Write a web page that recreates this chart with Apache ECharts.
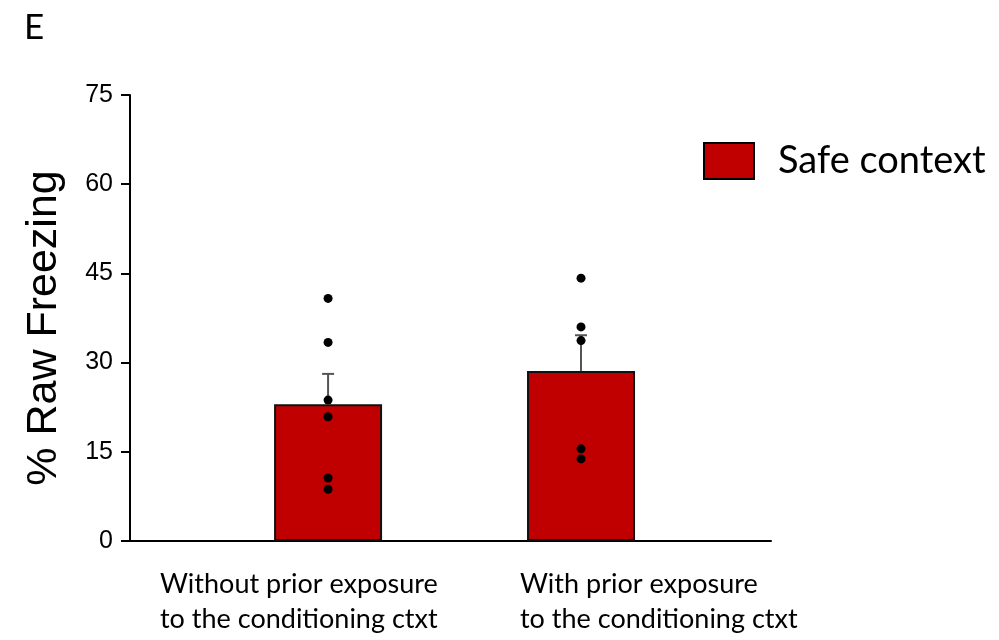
<!DOCTYPE html>
<html>
<head>
<meta charset="utf-8">
<script src="https://cdn.jsdelivr.net/npm/echarts@6/dist/echarts.min.js"></script>
<style>
  html, body { margin: 0; padding: 0; background: #fff; }
  #chart { width: 999px; height: 640px; }
</style>
</head>
<body>
<div id="chart"></div>
<script>
// Groups (positions 1 and 2 on the x scale) and their labels
const groupPositions = [1, 2];
const groupLabels = [
  'Without prior exposure\nto the conditioning ctxt',
  'With prior exposure\nto the conditioning ctxt'
];
// Group means and SEM (% raw freezing)
const meanValues = [23.0, 28.6];
const semValues = [5.1, 6.0];
// Individual animals
const pointsWithout = [40.8, 33.4, 23.7, 20.9, 10.6, 8.7];
const pointsWith = [44.2, 36.0, 33.7, 15.5, 13.8];
// Y axis ticks
const yTicks = [0, 15, 30, 45, 60, 75];

const seriesName = 'Safe context';
const yTitle = '% Raw Freezing';
const barColor = '#C00000';

const barData = groupPositions.map((x, i) => [x, meanValues[i]]);
const errData = groupPositions.map((x, i) => [x, meanValues[i], meanValues[i] + semValues[i]]);
const dotData = [
  ...pointsWithout.map(v => [groupPositions[0], v]),
  ...pointsWith.map(v => [groupPositions[1], v])
];

const labelFont = 'Lato, "Open Sans", sans-serif';

const chart = echarts.init(document.getElementById('chart'), null, { renderer: 'canvas' });

chart.setOption({
  animation: false,
  backgroundColor: '#ffffff',
  grid: { left: 130, right: 228, top: 95, bottom: 99, containLabel: false },
  xAxis: {
    type: 'value',
    min: 0.217,
    max: 2.751,
    axisLine: { show: true, lineStyle: { color: '#000', width: 2 } },
    axisTick: { show: false },
    axisLabel: { show: false },
    splitLine: { show: false }
  },
  yAxis: {
    type: 'value',
    min: yTicks[0],
    max: yTicks[yTicks.length - 1],
    interval: 15,
    axisLine: { show: true, lineStyle: { color: '#000', width: 2 } },
    axisTick: { show: true, inside: false, length: 9, lineStyle: { color: '#000', width: 2 } },
    axisLabel: {
      color: '#000',
      fontFamily: 'Liberation Sans, Arial, sans-serif',
      fontSize: 25,
      margin: 17
    },
    splitLine: { show: false }
  },
  legend: {
    data: [seriesName],
    left: 698,
    top: 137,
    itemWidth: 50,
    itemHeight: 36,
    itemGap: 10,
    icon: 'rect',
    textStyle: {
      color: '#000',
      fontFamily: labelFont,
      fontSize: 38,
      padding: [0, 0, 0, 19]
    },
    itemStyle: { borderColor: '#000', borderWidth: 2 }
  },
  series: [
    {
      name: seriesName,
      type: 'bar',
      data: barData,
      barWidth: 108,
      itemStyle: { color: barColor, borderColor: '#111', borderWidth: 2 },
      z: 2
    },
    {
      name: 'sem',
      type: 'custom',
      data: errData,
      encode: { x: 0, y: [1, 2] },
      z: 3,
      renderItem: function (params, api) {
        const x = api.value(0);
        const base = api.coord([x, api.value(1)]);
        const top = api.coord([x, api.value(2)]);
        const cap = 6;
        const style = { stroke: '#555', lineWidth: 2 };
        return {
          type: 'group',
          children: [
            { type: 'line', shape: { x1: base[0], y1: base[1], x2: top[0], y2: top[1] }, style },
            { type: 'line', shape: { x1: top[0] - cap, y1: top[1], x2: top[0] + cap, y2: top[1] }, style }
          ]
        };
      }
    },
    {
      name: 'animals',
      type: 'scatter',
      data: dotData,
      symbol: 'circle',
      symbolSize: 9,
      itemStyle: { color: '#000', opacity: 1 },
      z: 4
    }
  ],
  graphic: [
    {
      type: 'text',
      left: 24,
      top: 10,
      style: { text: 'E', fill: '#000', font: '35px ' + labelFont }
    },
    {
      type: 'text',
      x: 44,
      y: 328,
      rotation: Math.PI / 2,
      style: {
        text: yTitle,
        fill: '#000',
        font: '43px "Liberation Sans", Arial, sans-serif',
        align: 'center',
        verticalAlign: 'middle'
      }
    },
    {
      type: 'text',
      left: 160,
      top: 567,
      style: {
        text: groupLabels[0],
        fill: '#000',
        font: '27px ' + labelFont,
        lineHeight: 35
      }
    },
    {
      type: 'text',
      left: 520,
      top: 567,
      style: {
        text: groupLabels[1],
        fill: '#000',
        font: '27px ' + labelFont,
        lineHeight: 35
      }
    }
  ]
});
</script>
</body>
</html>
